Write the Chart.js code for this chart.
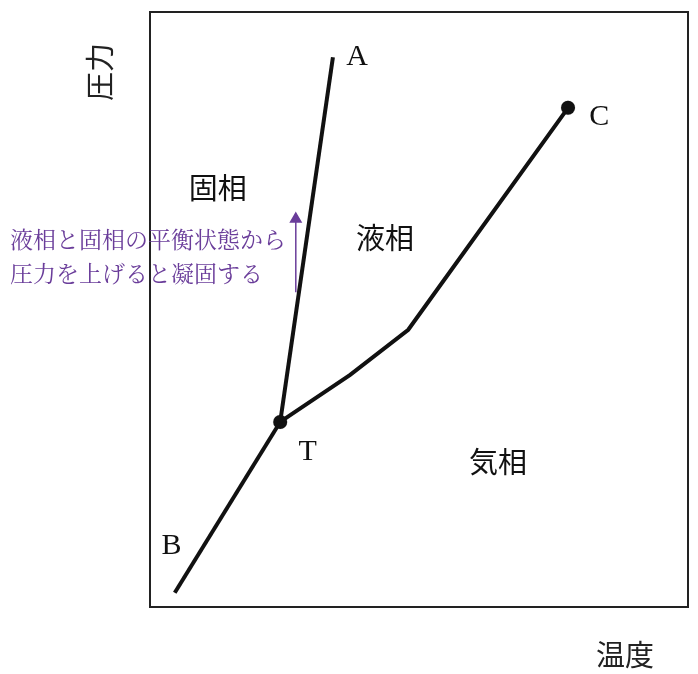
<!DOCTYPE html>
<html><head><meta charset="utf-8">
<script src="https://cdn.jsdelivr.net/npm/chart.js@4"></script>
<style>html,body{margin:0;padding:0;background:#fff}#w{width:698px;height:674px}</style>
</head><body><div id="w"><canvas id="c"></canvas></div>
<script>
// data in arbitrary units 0..100 (temperature, pressure)
const lineBT = [{x:4.6,y:2.4},{x:24.2,y:31.1}];
const lineTA = [{x:24.2,y:31.1},{x:34.0,y:92.4}];
const lineTC = [{x:24.2,y:31.1},{x:37.2,y:39.0},{x:48.0,y:46.6},{x:77.7,y:83.9}];
const pointT = [{x:24.2,y:31.1}];
const pointC = [{x:77.7,y:83.9}];
const arrow = [{x:27.1,y:52.9},{x:27.1,y:65.2}];
const labels = [
 {t:'A',x:38.5,y:92.4,f:'30px "Liberation Serif"',c:'#111'},
 {t:'C',x:83.5,y:82.4,f:'30px "Liberation Serif"',c:'#111'},
 {t:'T',x:29.3,y:26.0,f:'30px "Liberation Serif"',c:'#111'},
 {t:'B',x:4.0,y:10.3,f:'30px "Liberation Serif"',c:'#111'},
 {t:'固相',x:12.6,y:70.4,f:'29px "Noto Sans CJK JP"',c:'#111'},
 {t:'液相',x:43.7,y:62.0,f:'29px "Noto Sans CJK JP"',c:'#111'},
 {t:'気相',x:64.7,y:24.4,f:'29px "Noto Sans CJK JP"',c:'#111'}
];
const note = ['液相と固相の平衡状態から','圧力を上げると凝固する'];
const axisY = '圧力', axisX = '温度';

const ln = (d,extra)=>Object.assign({type:'line',data:d,borderColor:'#111',borderWidth:4,pointRadius:0,tension:0,fill:false},extra||{});
const deco = {id:'deco',afterDraw(ch){
 const {ctx,chartArea:a,scales:{x,y}}=ch;
 ctx.save();
 ctx.strokeStyle='#222';ctx.lineWidth=2;ctx.strokeRect(a.left,a.top,a.right-a.left,a.bottom-a.top);
 ctx.textAlign='center';ctx.textBaseline='middle';
 labels.forEach(l=>{ctx.font=l.f;ctx.fillStyle=l.c;ctx.fillText(l.t,x.getPixelForValue(l.x),y.getPixelForValue(l.y));});
 ctx.font='29px "Noto Sans CJK JP"';ctx.fillStyle='#222';
 ctx.fillText(axisX,a.right-63,a.bottom+48);
 ctx.save();ctx.translate(a.left-50,a.top+60);ctx.rotate(-Math.PI/2);ctx.fillText(axisY,0,0);ctx.restore();
 ctx.font='23px "Noto Serif CJK JP","Noto Sans CJK JP"';ctx.fillStyle='#6a3d9a';ctx.textAlign='left';
 ctx.fillText(note[0],10,239);ctx.fillText(note[1],10,273);
 ctx.restore();
}};
new Chart(document.getElementById('c'),{
 type:'scatter',
 data:{datasets:[
  ln(lineBT),ln(lineTA),ln(lineTC),
  {type:'scatter',data:pointT,backgroundColor:'#111',pointRadius:7},
  {type:'scatter',data:pointC,backgroundColor:'#111',pointRadius:7},
  ln(arrow,{borderColor:'#6a3d9a',borderWidth:1.5,pointRadius:[0,6],pointStyle:'triangle',pointBackgroundColor:'#6a3d9a',pointBorderColor:'#6a3d9a'})
 ]},
 options:{responsive:true,maintainAspectRatio:false,animation:false,
  layout:{padding:{left:150,top:12,right:10,bottom:67}},
  plugins:{legend:{display:false},tooltip:{enabled:false}},
  scales:{x:{display:false,min:0,max:100},y:{display:false,min:0,max:100}}},
 plugins:[deco]
});
</script></body></html>
